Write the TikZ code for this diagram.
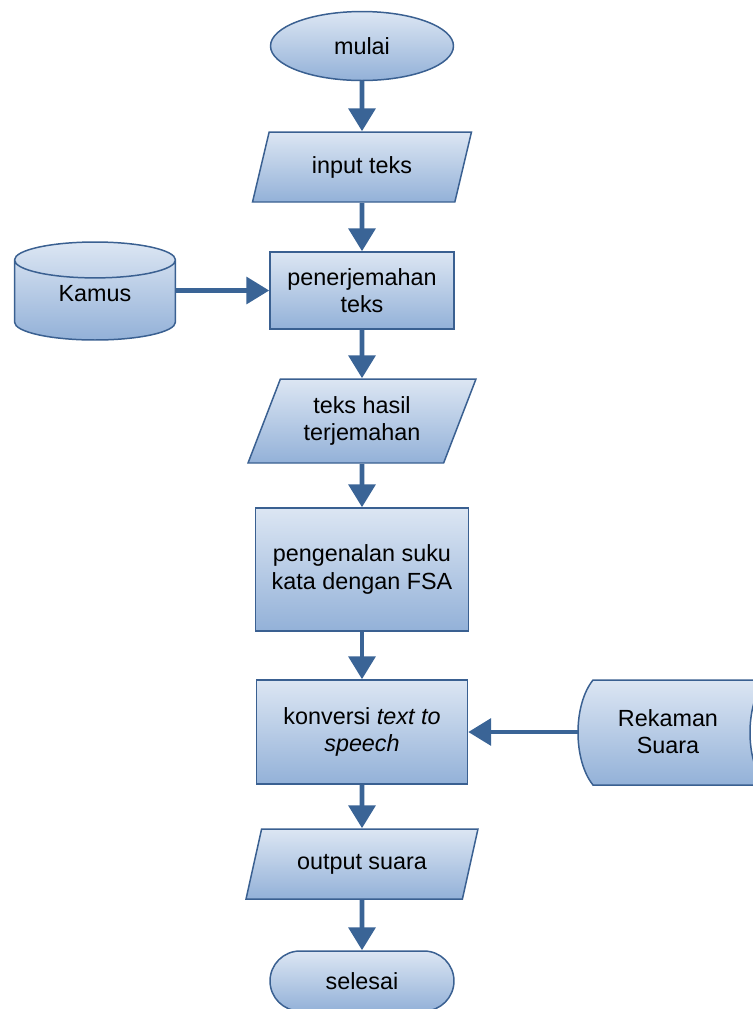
\documentclass[tikz,border=0pt]{standalone}
\usepackage{fontspec}
\setmainfont{Liberation Sans}
\usetikzlibrary{shapes.geometric,arrows.meta}
\definecolor{fcline}{HTML}{3A6091}
\definecolor{fcarrow}{HTML}{3A6496}
\definecolor{fctop}{HTML}{DCE6F3}
\definecolor{fcbottom}{HTML}{93B1D8}

\begin{document}
\begin{tikzpicture}[x=0.02cm,y=-0.02cm,
  shade/.style={draw=fcline,line width=0.85pt,top color=fctop,bottom color=fcbottom},
  box/.style={shade,align=center,inner sep=2pt,font=\fontsize{13.3}{15.5}\selectfont},
  terminal/.style={box,ellipse,minimum width=3.66cm,minimum height=1.38cm},
  process/.style={box,rectangle},
  io/.style={box,trapezium,trapezium left angle=60,trapezium right angle=120,trapezium stretches body},
  flow/.style={draw=fcarrow,line width=2.8pt,-{Triangle[length=13pt,width=15pt]}}]
\useasboundingbox (0,0) rectangle (752,1009);

\node[terminal] (mulai) at (362,46) {mulai};
\node[io,minimum width=4.38cm,minimum height=1.4cm] (input) at (362,167) {input teks};
\node[process,minimum width=3.68cm,minimum height=1.54cm] (terjemah) at (362,290.5) {penerjemahan\\teks};
\node[box,cylinder,shape border rotate=90,aspect=0.45,minimum width=3.22cm,minimum height=1.96cm,anchor=shape center] (kamus) at (95,291) {\raisebox{0.4cm}{Kamus}};
\node[io,minimum width=4.56cm,minimum height=1.68cm] (hasil) at (362,421) {teks hasil\\terjemahan};
\node[process,minimum width=4.26cm,minimum height=2.46cm] (fsa) at (362,569.5) {pengenalan suku\\kata dengan FSA};
\node[process,minimum width=4.22cm,minimum height=2.08cm] (tts) at (362,732) {konversi \textit{text to}\\\textit{speech}};
% rekaman suara (stored data, terpotong di kanan)
\draw[shade] (593,680) .. controls (573,705) and (573,760) .. (593,785) -- (765,785)
  .. controls (745,760) and (745,705) .. (765,680) -- cycle;
\node[align=center,font=\fontsize{13.3}{15.5}\selectfont,minimum width=3.6cm,minimum height=2.1cm] (rekaman) at (668,732) {Rekaman\\Suara};
\node[io,minimum width=4.64cm,minimum height=1.4cm] (output) at (362,864) {output suara};
\node[box,rectangle,rounded corners=0.6cm,minimum width=3.68cm,minimum height=1.2cm] (selesai) at (362,981) {selesai};

\path (mulai) edge[flow] (input);
\path (input) edge[flow] (terjemah);
\path (kamus.east |- terjemah.west) edge[flow] (terjemah.west);
\path (terjemah) edge[flow] (hasil);
\path (hasil) edge[flow] (fsa);
\path (fsa) edge[flow] (tts);
\path (rekaman) edge[flow] (tts);
\path (tts) edge[flow] (output);
\path (output) edge[flow] (selesai);
\end{tikzpicture}
\end{document}
